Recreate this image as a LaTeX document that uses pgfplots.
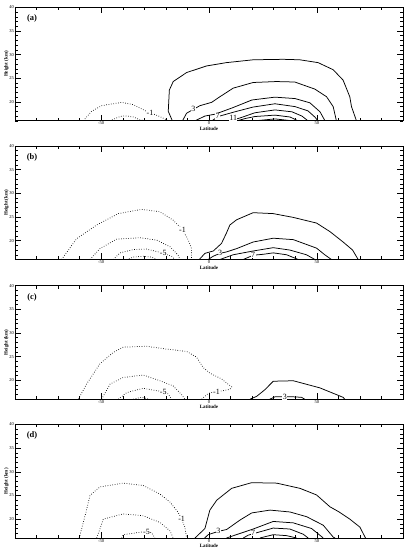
\documentclass[border=0pt]{standalone}
\usepackage{fontspec}
\setmainfont{Liberation Serif}
\usepackage{pgfplots}
\pgfplotsset{compat=1.18}
\pgfplotsset{
  panel/.style={
    scale only axis, width=388bp, height=113.5bp,
    xmin=-90, xmax=90, ymin=16, ymax=40,
    xtick={-50,0,50}, xticklabels={-50,0,50},
    minor xtick={-80,-70,-60,-40,-30,-20,-10,10,20,30,40,60,70,80},
    ytick={20,25,30,35,40}, yticklabels={20,25,30,35,40},
    minor ytick={16,...,40},
    tick align=inside,
    major tick length=6bp, minor tick length=3bp,
    tick style={line width=0.5bp, black},
    axis line style={line width=0.6bp},
    ticklabel style={font=\fontsize{4.5}{5}\selectfont, inner sep=1bp},
    xlabel={Latitude}, ylabel={Height (km)},
    label style={font=\fontsize{5}{5}\selectfont\bfseries},
    xlabel style={yshift=2.5bp},
    ylabel style={yshift=-4bp},
    anchor=north west,
  },
  pos/.style={black, line width=0.75bp},
  neg/.style={black, line width=0.75bp, dash pattern=on 0.6bp off 1.8bp},
}
\tikzset{
  clab/.style={fill=white, inner sep=0.4bp, font=\fontsize{8}{8}\selectfont},
  plab/.style={font=\fontsize{8.5}{8.5}\selectfont\bfseries},
}
\begin{document}
\begin{tikzpicture}
\useasboundingbox (0,0) rectangle (405bp,557bp);
% ---------------- (a)
\begin{axis}[panel, at={(15bp,549.7bp)}]
\addplot[pos] coordinates {(-17.0,16) (-18.9,18.0) (-18.4,22.5) (-16.6,24.3) (-10.4,26.2) (-1.1,27.6) (8.1,28.3) (20.5,28.9) (34.4,29.0) (42.1,28.9) (50.6,28.3) (57.6,26.8) (62.2,24.6) (65.3,21.1) (66.1,19.0) (68.4,16)};
\addplot[pos] coordinates {(-12.3,16) (-10.4,17.6) (-4.2,19.2) (1.2,19.9) (5.1,21.1) (11.2,22.9) (20.5,24.1) (31.3,24.3) (39.8,24.2) (49.1,22.7) (54.5,21.1) (57.6,19.0) (59.1,16)};
\addplot[pos] coordinates {(-6.5,16) (-1.9,17.0) (2.8,17.4) (10.6,18.7) (19.9,20.4) (30.6,21.0) (39.9,20.7) (46.8,19.8) (51.5,17.9) (53.8,16)};
\addplot[pos] coordinates {(1.4,16) (4.2,16.9) (12.0,17.9) (20.4,18.9) (30.6,19.6) (39.9,19.0) (45.9,18.1) (49.1,16.8) (50.5,16)};
\addplot[pos] coordinates {(9.7,16) (14.4,16.6) (21.3,17.7) (30.6,18.3) (38.5,17.9) (43.1,17.0) (45.9,16)};
\addplot[pos] coordinates {(13,16) (17,16.5) (21.3,16.9) (30.6,17.2) (37.6,16.8) (41.3,16)};
\addplot[pos] coordinates {(21.3,16) (30.6,16.4) (38.5,16)};
\addplot[neg] coordinates {(-58.3,16) (-54.5,18.0) (-49.8,19.2) (-40.5,19.9) (-35.1,19.4) (-29.0,18.0) (-22.8,16.9) (-18.9,16)};
\addplot[neg] coordinates {(-46,16) (-41.3,16.9) (-39.0,17.05) (-35.1,16.8) (-32.0,16.2) (-29.0,16)};
\node[clab] at (axis cs:-7.3,18.5) {3};
\node[clab] at (axis cs:4.0,17.0) {7};
\node[clab] at (axis cs:11.2,16.7) {11};
\node[clab] at (axis cs:-27.4,17.6) {-1};
\node[plab] at (rel axis cs:0.044,0.9) {(a)};
\end{axis}
% ---------------- (b)
\begin{axis}[panel, at={(15bp,411bp)}]
\addplot[neg] coordinates {(-68.4,16) (-61.4,20.4) (-52.1,23.3) (-42.1,25.7) (-31.3,26.6) (-22.8,26.1) (-16.6,24.3) (-12.3,22.3) (-9.6,20.1) (-8.1,18.3) (-8.1,16)};
\addplot[neg] coordinates {(-55.2,16) (-50.6,18.3) (-42.9,20.3) (-32.0,20.6) (-24.3,20.1) (-18.1,18.7) (-14.3,16.9) (-13.5,16)};
\addplot[neg] coordinates {(-44.4,16) (-41.3,17.4) (-35.1,18.1) (-29.0,18.2) (-23.5,17.6) (-17.4,16.7) (-15.8,16)};
\addplot[neg] coordinates {(-38.2,16) (-35.1,16.5) (-30.5,16.7) (-26.6,16.5) (-24.3,16)};
\addplot[pos] coordinates {(-4.5,16) (-1.9,17.3) (2.0,17.8) (5.8,19.4) (8.1,21.6) (9.7,23.3) (12.8,24.4) (20.5,25.9) (29.8,25.7) (39.1,24.9) (49.9,23.7) (56.1,21.9) (62.2,19.7) (66.6,18.0) (69.2,16)};
\addplot[pos] coordinates {(-0.4,16) (2.0,16.7) (5.1,17.3) (8.1,17.6) (12.8,18.3) (20.5,19.7) (29.8,20.5) (39.1,20.2) (49.9,18.4) (53.7,17.0) (56.8,16)};
\addplot[pos] coordinates {(5.1,16) (11.2,17.0) (20.5,17.8) (29.8,18.5) (37.5,18.0) (45.2,17.0) (49.1,16)};
\addplot[pos] coordinates {(15.9,16) (20.5,16.9) (25.1,17.1) (29.8,17.4) (36.0,17.0) (41.4,16)};
\node[clab] at (axis cs:-12.3,22.3) {-1};
\node[clab] at (axis cs:-21.2,17.4) {-5};
\node[clab] at (axis cs:5.1,17.3) {3};
\node[clab] at (axis cs:20.5,16.9) {7};
\node[plab] at (rel axis cs:0.044,0.9) {(b)};
\end{axis}
% ---------------- (c)
\begin{axis}[panel, at={(15bp,271.3bp)}]
\addplot[neg] coordinates {(-60.6,16) (-56.8,19.2) (-50.6,23.5) (-44.4,25.9) (-39.8,27.0) (-29.0,27.2) (-19.7,26.6) (-10.4,26.1) (-5.8,24.9) (-2.7,22.7) (0.4,21.5) (5.8,20.3) (10.5,18.6) (9.7,18.1) (6.6,17.8) (2.7,17.6) (-0.4,17.2) (-3.4,16)};
\addplot[neg] coordinates {(-49.8,16) (-45.9,19.2) (-39.8,20.6) (-30.5,21.1) (-22.8,19.9) (-16.6,18.8) (-12.8,17.0) (-11.2,16)};
\addplot[neg] coordinates {(-42.1,16) (-38.2,17.4) (-30.5,18.3) (-24.3,17.8) (-21.2,17.6) (-18.9,17.1) (-17.4,16)};
\addplot[neg] coordinates {(-35.1,16) (-31.3,16.4) (-27.4,16)};
\addplot[pos] coordinates {(19.0,16) (22.1,16.6) (25.9,18.0) (29.8,19.8) (39.1,19.9) (51.4,18.4) (62.2,16.4) (63.0,16)};
\addplot[pos] coordinates {(28.2,16) (30.6,16.5) (35.2,16.5) (39.1,16.5) (42.9,16.4) (44.4,16)};
\node[clab] at (axis cs:3.5,17.6) {-1};
\node[clab] at (axis cs:-21.2,17.6) {-5};
\node[clab] at (axis cs:35.2,16.5) {3};
\node[plab] at (rel axis cs:0.044,0.9) {(c)};
\end{axis}
% ---------------- (d)
\begin{axis}[panel, at={(15bp,132.5bp)}]
\addplot[neg] coordinates {(-60.2,16) (-57.5,20.7) (-55.2,25.0) (-50.6,26.8) (-39.8,27.6) (-30.5,27.1) (-22.8,25.3) (-18.1,23.6) (-14.3,21.4) (-12.7,20.0) (-11.2,18.3) (-10.4,16)};
\addplot[neg] coordinates {(-52.1,16) (-49.0,20.0) (-39.8,21.1) (-30.5,20.7) (-22.8,19.3) (-18.1,17.5) (-16.6,16)};
\addplot[neg] coordinates {(-40.5,16) (-39.8,16.7) (-33.6,17.1) (-29.0,17.4) (-26.6,17.1) (-25.1,16)};
\addplot[pos] coordinates {(-6.5,16) (-1.9,18.0) (0.4,21.9) (3.6,24.0) (10.5,26.5) (19.8,27.7) (31.4,27.6) (42.2,26.5) (49.9,25.1) (56.1,22.6) (60.0,21.6) (65.3,20.0) (70.0,18.3) (72.6,16)};
\addplot[pos] coordinates {(-2.0,16) (-0.4,16.7) (4.3,17.4) (8.2,17.8) (14.4,19.8) (19.8,21.3) (28.3,21.9) (37.6,21.5) (45.3,20.5) (53.0,18.7) (57.6,16.2) (58.5,16)};
\addplot[pos] coordinates {(8.1,16) (14,16.9) (20.5,17.9) (29.8,19.5) (39.1,19.2) (47.6,18.0) (53.0,16)};
\addplot[pos] coordinates {(15.9,16) (18.2,16.6) (23.6,17.3) (29.8,18.1) (37.5,17.9) (43.7,16.8) (46.0,16)};
\addplot[pos] coordinates {(23.6,16) (29.8,16.7) (36.0,16.5) (40.6,16)};
\node[clab] at (axis cs:-12.7,20.0) {-1};
\node[clab] at (axis cs:-29.0,17.3) {-5};
\node[clab] at (axis cs:4.3,17.4) {3};
\node[clab] at (axis cs:20.5,17.0) {7};
\node[plab] at (rel axis cs:0.044,0.9) {(d)};
\end{axis}
\end{tikzpicture}
\end{document}
